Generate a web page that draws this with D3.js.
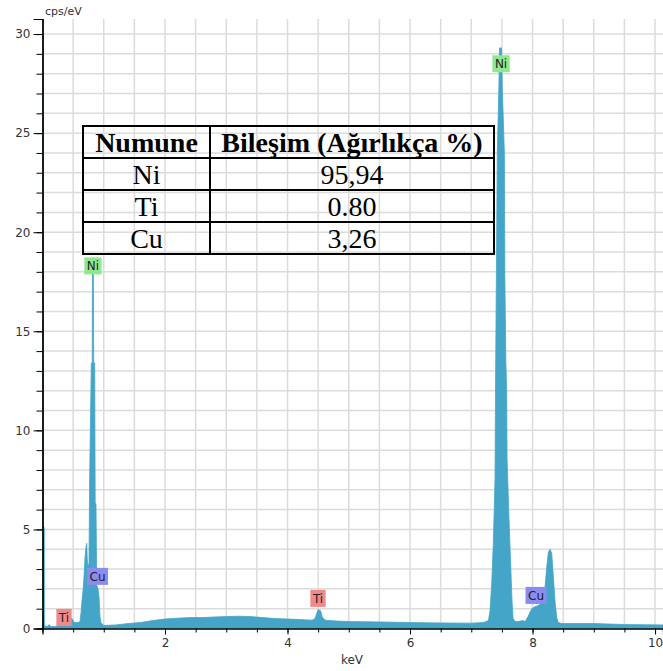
<!DOCTYPE html>
<html>
<head>
<meta charset="utf-8">
<script src="https://cdn.jsdelivr.net/npm/d3@7"></script>
<style>
  body { margin: 0; background: #fff; }
  .tick text { font-family: "DejaVu Sans", Verdana, sans-serif; font-size: 12px; fill: #333; }
</style>
</head>
<body>
<div id="d3-container"></div>
<script>
// Spectrum (keV, cps/eV)
const energyKeV = [
  0.000, 0.012, 0.013, 0.028, 0.030, 0.040, 0.080, 0.110, 0.130, 0.200,
  0.300, 0.400, 0.440, 0.480, 0.520, 0.580, 0.612, 0.629, 0.645, 0.661,
  0.678, 0.694, 0.710, 0.722, 0.731, 0.743, 0.759, 0.770, 0.797, 0.812,
  0.816, 0.830, 0.836, 0.852, 0.860, 0.873, 0.885, 0.906, 0.922, 0.939,
  0.955, 1.000, 1.200, 1.400, 1.600, 1.800, 2.000, 2.200, 2.400, 2.600,
  2.800, 3.000, 3.200, 3.400, 3.600, 3.800, 4.000, 4.200, 4.400, 4.450,
  4.480, 4.500, 4.540, 4.570, 4.620, 4.800, 5.000, 5.500, 6.000, 6.500,
  7.000, 7.200, 7.280, 7.306, 7.334, 7.360, 7.388, 7.396, 7.410, 7.425,
  7.450, 7.462, 7.494, 7.507, 7.540, 7.548, 7.565, 7.578, 7.584, 7.616,
  7.665, 7.682, 7.720, 7.763, 7.845, 7.878, 7.927, 7.987, 8.041, 8.090,
  8.150, 8.180, 8.204, 8.232, 8.258, 8.286, 8.313, 8.340, 8.367, 8.395,
  8.421, 8.482, 9.000, 9.500, 10.13
];
const countsCps = [
  36, 36, 5.1, 5.1, 0.3, 0.12, 0.1, 0.2, 0.1, 0.1,
  0.15, 0.2, 0.45, 0.5, 0.3, 0.3, 0.35, 0.8, 1.4, 1.9,
  2.6, 3.6, 4.1, 4.3, 3.5, 3.1, 3.3, 7.6, 13.4, 13.4,
  18.2, 18.2, 13.4, 13.4, 6.3, 6.3, 2.2, 2.0, 1.6, 0.6,
  0.3, 0.15, 0.18, 0.25, 0.3, 0.4, 0.48, 0.52, 0.55, 0.55,
  0.58, 0.6, 0.62, 0.6, 0.55, 0.5, 0.48, 0.45, 0.42, 0.5,
  0.8, 0.95, 0.9, 0.55, 0.42, 0.38, 0.35, 0.33, 0.3, 0.28,
  0.27, 0.3, 0.4, 0.9, 2.3, 4.3, 7.6, 12.3, 17.8, 24,
  27.2, 29.3, 29.3, 27.2, 24, 17.8, 13.4, 12, 8.6, 5.5,
  1.4, 0.5, 0.35, 0.35, 0.4, 0.35, 0.6, 1.0, 1.1, 1.15,
  1.3, 1.6, 2.1, 3.1, 3.85, 4.0, 3.8, 2.6, 1.4, 0.55,
  0.3, 0.25, 0.25, 0.2, 0.18
];

// Axis ticks
const xMajorTicks = [2, 4, 6, 8, 10];
const yMajorTicks = [0, 5, 10, 15, 20, 25, 30];

// Peak labels (element, centre keV, centre cps/eV)
const peakNames = ["Ti", "Cu", "Ni", "Ti", "Ni", "Cu"];
const peakKeV = [0.351, 0.898, 0.824, 4.498, 7.486, 8.057];
const peakCps = [0.56, 2.63, 18.3, 1.52, 28.5, 1.67];

// Composition table
const tableHeader = ["Numune", "Bileşim (Ağırlıkça %)"];
const tableElements = ["Ni", "Ti", "Cu"];
const tableWeights = ["95,94", "0.80", "3,26"];

const width = 663;
const height = 671;
const plot = { left: 42.5, right: 663, top: 19, bottom: 628.5 };

const svg = d3
  .select("#d3-container")
  .append("svg")
  .attr("width", width)
  .attr("height", height);

const xScale = d3.scaleLinear().domain([0, 10.13]).range([plot.left, plot.right]);
const yScale = d3.scaleLinear().domain([0, 30.76]).range([plot.bottom, plot.top]);

// Grid
const grid = svg.append("g").attr("stroke", "#dcdcdc").attr("stroke-width", 1.5);
grid.selectAll(".vgrid")
  .data(d3.range(1, 21).map((i) => i * 0.5))
  .enter()
  .append("line")
  .attr("x1", (d) => xScale(d))
  .attr("x2", (d) => xScale(d))
  .attr("y1", plot.top)
  .attr("y2", plot.bottom);
grid.selectAll(".hgrid")
  .data(d3.range(1, 31))
  .enter()
  .append("line")
  .attr("x1", plot.left)
  .attr("x2", plot.right)
  .attr("y1", (d) => yScale(d))
  .attr("y2", (d) => yScale(d));

// Spectrum
svg.append("clipPath")
  .attr("id", "clip")
  .append("rect")
  .attr("x", plot.left)
  .attr("y", plot.top)
  .attr("width", plot.right - plot.left)
  .attr("height", plot.bottom - plot.top);

const spectrum = energyKeV.map((e, i) => ({ e, c: countsCps[i] }));
const area = d3.area()
  .x((d) => xScale(d.e))
  .y0(yScale(0))
  .y1((d) => yScale(d.c));

svg.append("path")
  .datum(spectrum)
  .attr("clip-path", "url(#clip)")
  .attr("fill", "#44a5c8")
  .attr("stroke", "#44a5c8")
  .attr("stroke-width", 0.8)
  .attr("d", area);

// Axes
svg.append("g")
  .attr("transform", `translate(${plot.left}, 0)`)
  .call(d3.axisLeft(yScale).tickValues(yMajorTicks).tickSize(9).tickPadding(3));
svg.append("g")
  .attr("transform", `translate(${plot.left}, 0)`)
  .call(d3.axisLeft(yScale).tickValues(d3.range(0, 31)).tickSize(6).tickFormat(""));

svg.append("g")
  .attr("transform", `translate(0, ${plot.bottom})`)
  .call(d3.axisBottom(xScale).tickValues(xMajorTicks).tickSize(6).tickPadding(4));
svg.append("g")
  .attr("transform", `translate(0, ${plot.bottom})`)
  .call(d3.axisBottom(xScale).tickValues(d3.range(1, 21).map((i) => i * 0.5)).tickSize(4).tickFormat(""));

svg.selectAll(".domain").attr("stroke", "#000").attr("stroke-width", 1.2);
svg.selectAll(".tick line").attr("stroke", "#000");

// Axis titles
svg.append("text")
  .attr("x", 45)
  .attr("y", 15)
  .attr("font-family", "DejaVu Sans, Verdana, sans-serif")
  .attr("font-size", 11)
  .attr("fill", "#333")
  .text("cps/eV");

svg.append("text")
  .attr("x", 352)
  .attr("y", 664)
  .attr("text-anchor", "middle")
  .attr("font-family", "DejaVu Sans, Verdana, sans-serif")
  .attr("font-size", 12)
  .attr("fill", "#333")
  .text("keV");

// Peak labels
const labelColor = { Ni: "#8ee88e", Ti: "#f08a8a", Cu: "#8c8cf0" };
peakNames.forEach((name, i) => {
  const g = svg.append("g")
    .attr("transform", `translate(${xScale(peakKeV[i])}, ${yScale(peakCps[i])})`);
  const rect = g.append("rect").attr("fill", labelColor[name]);
  const t = g.append("text")
    .attr("text-anchor", "middle")
    .attr("dy", "0.36em")
    .attr("font-family", "DejaVu Sans, Verdana, sans-serif")
    .attr("font-size", 12)
    .attr("fill", "#222")
    .text(name);
  const w = t.node().getComputedTextLength() + 5;
  rect.attr("x", -w / 2).attr("y", -8.5).attr("width", w).attr("height", 17);
});

// Composition table
const table = { left: 83, right: 494, top: 126, col: 210, rowH: 32 };
const rows = [tableHeader].concat(tableElements.map((el, i) => [el, tableWeights[i]]));
const tg = svg.append("g");

rows.forEach((row, r) => {
  const top = table.top + r * table.rowH;
  tg.append("text")
    .attr("x", (table.left + table.col) / 2)
    .attr("y", top + 26)
    .attr("text-anchor", "middle")
    .attr("font-family", "Liberation Serif, Times New Roman, serif")
    .attr("font-size", 28)
    .attr("font-weight", r === 0 ? "bold" : "normal")
    .text(row[0]);
  tg.append("text")
    .attr("x", (table.col + table.right) / 2)
    .attr("y", top + 26)
    .attr("text-anchor", "middle")
    .attr("font-family", "Liberation Serif, Times New Roman, serif")
    .attr("font-size", 28)
    .attr("font-weight", r === 0 ? "bold" : "normal")
    .text(row[1]);
});

tg.append("rect")
  .attr("x", table.left)
  .attr("y", table.top)
  .attr("width", table.right - table.left)
  .attr("height", rows.length * table.rowH)
  .attr("fill", "none")
  .attr("stroke", "#000")
  .attr("stroke-width", 2);
tg.append("line")
  .attr("x1", table.col).attr("x2", table.col)
  .attr("y1", table.top).attr("y2", table.top + rows.length * table.rowH)
  .attr("stroke", "#000").attr("stroke-width", 2);
d3.range(1, rows.length).forEach((r) => {
  tg.append("line")
    .attr("x1", table.left).attr("x2", table.right)
    .attr("y1", table.top + r * table.rowH).attr("y2", table.top + r * table.rowH)
    .attr("stroke", "#000").attr("stroke-width", 2);
});
</script>
</body>
</html>
